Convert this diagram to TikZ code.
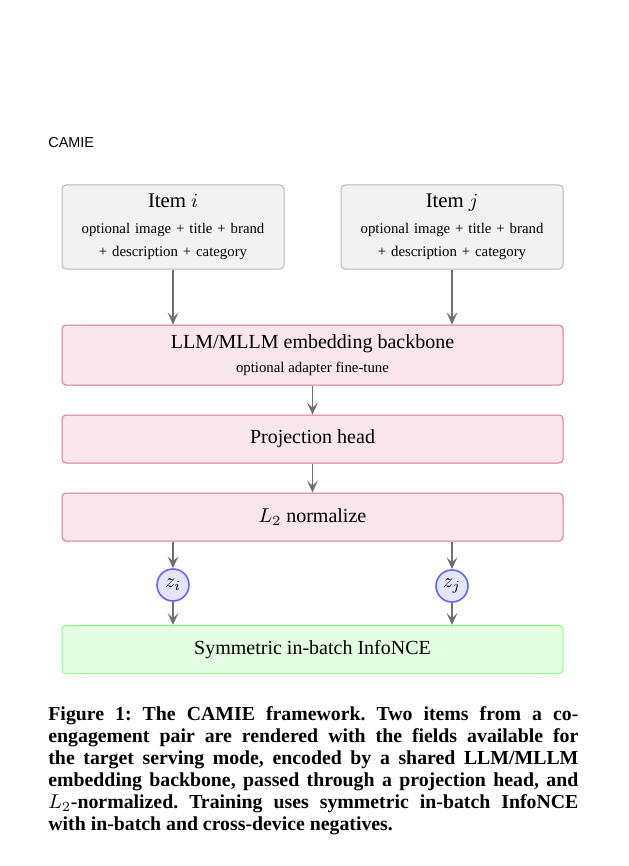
\documentclass[tikz,border=0pt]{standalone}
\usepackage{fontspec}
\setmainfont{Liberation Serif}
\setsansfont{Liberation Sans}
\usetikzlibrary{arrows.meta,positioning}
\tikzset{
	itembox/.style={draw=black!28, fill=black!5, rounded corners=2pt, line width=0.5pt,
		text width=103pt, minimum height=42pt, inner sep=4pt, align=center, font=\subtxt},
	stagebox/.style={draw=purple!55, fill=purple!10, rounded corners=2pt, line width=0.5pt,
		minimum width=250.5pt, minimum height=24pt, align=center, font=\maintxt},
	lossbox/.style={stagebox, draw=green!45, fill=green!10},
	embnode/.style={circle, draw=blue!60, fill=blue!10, line width=0.8pt,
		minimum size=16pt, inner sep=1pt, font=\maintxt},
	flow/.style={-{Stealth[length=6pt,width=5.4pt,inset=2.6pt]}, draw=black!56, line width=0.8pt}
}
\newcommand{\subtxt}{\fontsize{7.4}{11.5}\selectfont}
\newcommand{\maintxt}{\fontsize{10}{13}\selectfont}
\frenchspacing

\begin{document}
\begin{tikzpicture}[x=0.5pt, y=-0.5pt]
	\path[use as bounding box, fill=white] (0,0) rectangle (628,866);
	\node[anchor=west, inner sep=0, font=\sffamily\fontsize{7.2}{8}\selectfont] (runhead) at (48,143) {CAMIE};
	
	\node[itembox] (itemi) at (173,227) {{\fontsize{10.4}{13}\selectfont Item $i$}\\[1.5pt] optional image + title + brand\\ + description + category};
	\node[itembox] (itemj) at (452,227) {{\fontsize{10.4}{13}\selectfont Item $j$}\\[1.5pt] optional image + title + brand\\ + description + category};
	
	\node[stagebox, minimum height=30pt] (backbone) at (312.5,355) {LLM/MLLM embedding backbone\\[-1pt] {\subtxt optional adapter fine-tune}};
	\node[stagebox] (proj) at (312.5,439) {Projection head};
	\node[stagebox] (norm) at (312.5,517) {$L_2$ normalize};
	
	\node[embnode] (zi) at (173,585) {$z_i$};
	\node[embnode] (zj) at (452,586) {$z_j$};
	
	\node[lossbox] (loss) at (312.5,649.5) {Symmetric in-batch InfoNCE};
	
	\draw[flow] (itemi) -- (itemi |- backbone.north);
	\draw[flow] (itemj) -- (itemj |- backbone.north);
	\draw[flow] (backbone) -- (proj);
	\draw[flow] (proj) -- (norm);
	\draw[flow] (zi |- norm.south) -- (zi);
	\draw[flow] (zj |- norm.south) -- (zj);
	\draw[flow] (zi) -- (zi |- loss.north);
	\draw[flow] (zj) -- (zj |- loss.north);
	
	% caption
	\node[anchor=north west, inner sep=0, text width=265pt, align=justify,
		font=\bfseries\fontsize{9.9}{11}\selectfont] (caption) at (48,706)
		{Figure 1: The CAMIE framework. Two items from a co-\linebreak
		engagement pair are rendered with the fields available for\linebreak
		the target serving mode, encoded by a shared LLM/MLLM\linebreak
		embedding backbone, passed through a projection head, and\linebreak
		$L_2$-normalized. Training uses symmetric in-batch InfoNCE\linebreak
		with in-batch and cross-device negatives.};
\end{tikzpicture}
\end{document}
